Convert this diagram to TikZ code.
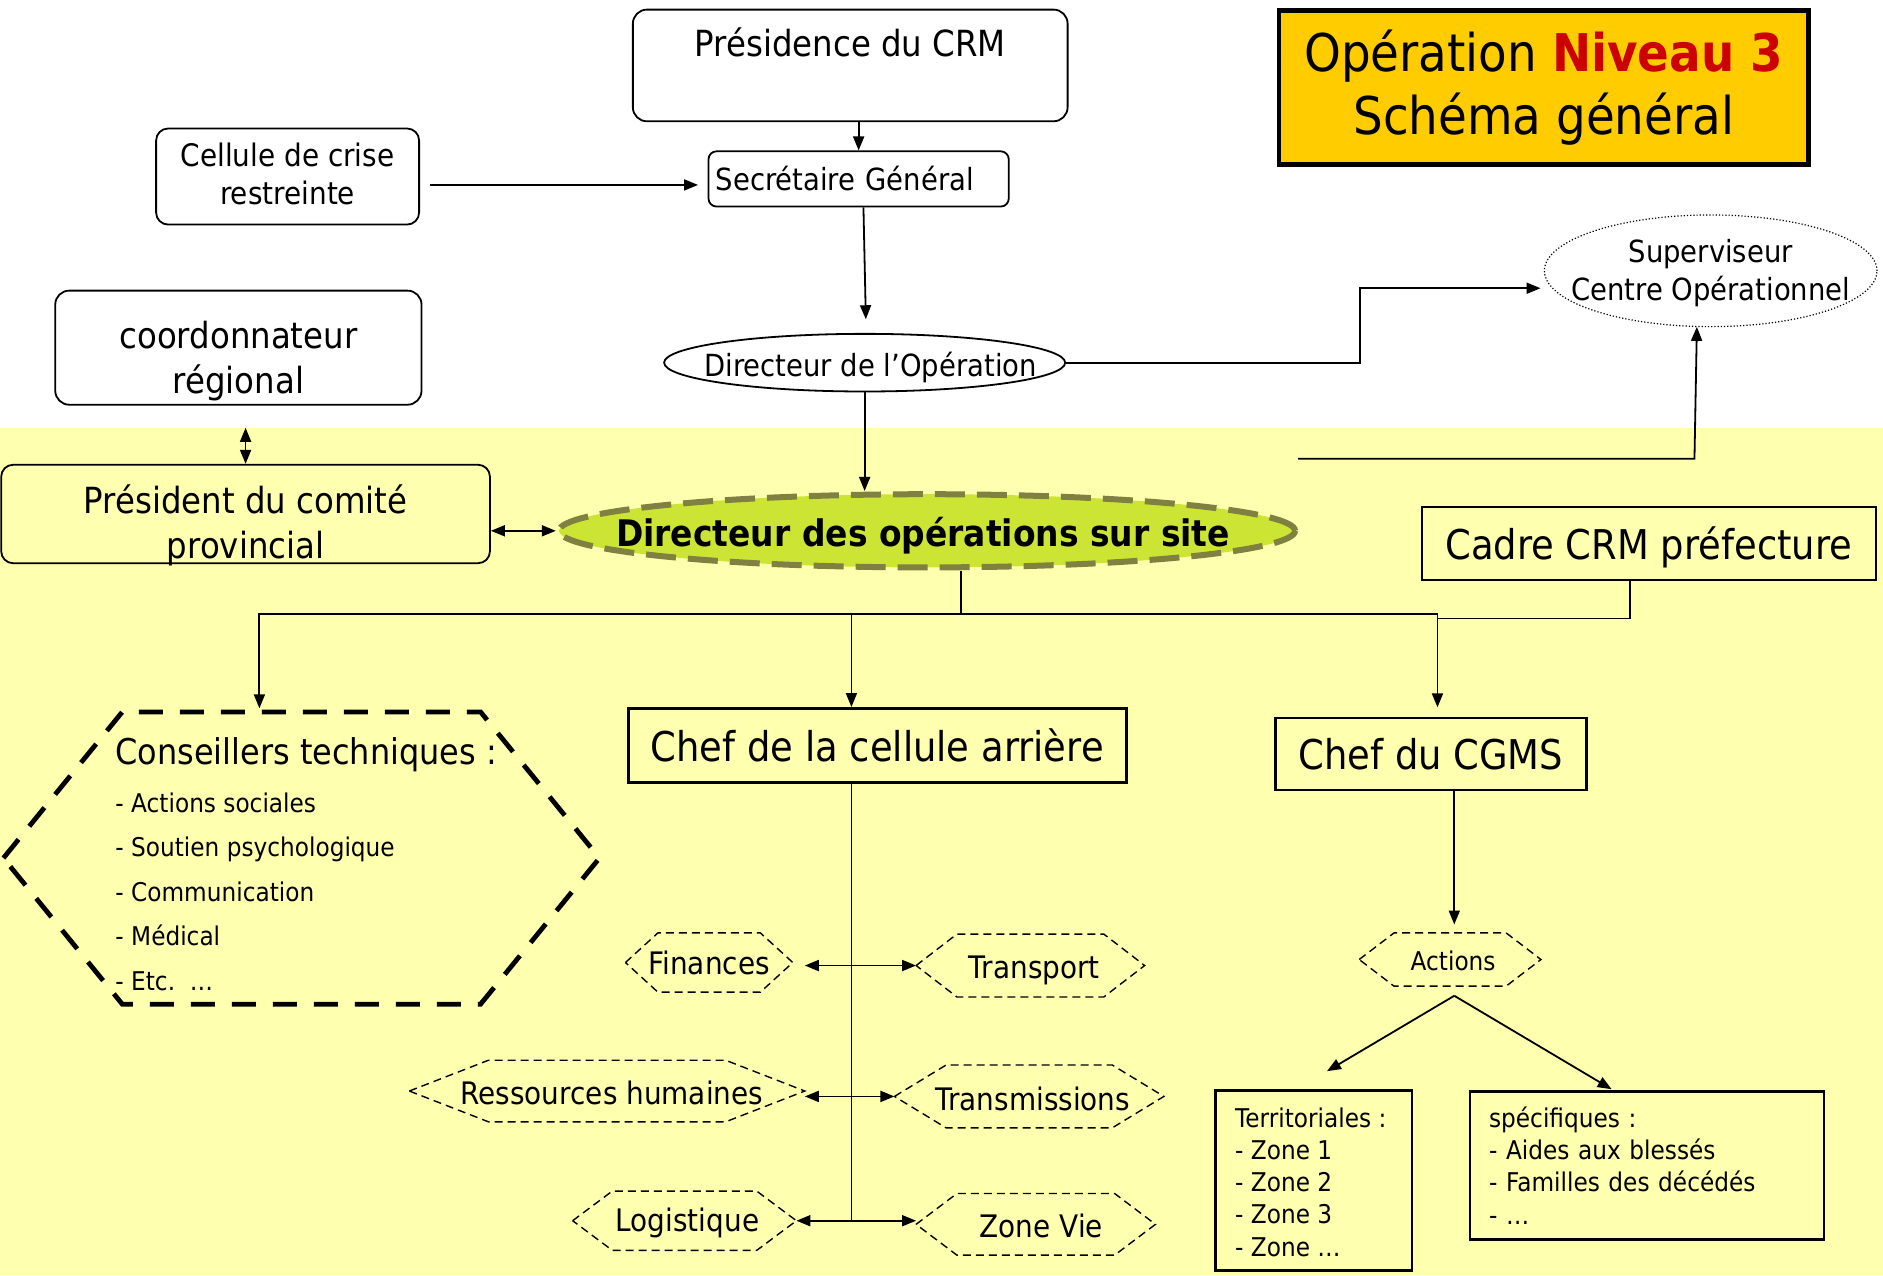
\documentclass[tikz,border=0pt]{standalone}
\usepackage{fontspec}
\setmainfont{DejaVu Sans}[FakeStretch=0.9]
\usetikzlibrary{arrows.meta,calc,backgrounds}
\definecolor{bgyellow}{HTML}{FFFFB0}
\definecolor{titlefill}{HTML}{FFCC00}
\definecolor{titlered}{HTML}{CC0000}
\definecolor{sitefill}{HTML}{CCE535}
\definecolor{siteborder}{HTML}{808040}
\newcommand{\uu}{1.2009pt}
\newcommand{\fsz}[2]{\fontsize{#1pt}{#2pt}\selectfont}
% move text (dx, dy) inside its node without changing the node's size
\newcommand{\mv}[3]{\raisebox{#2}[\height][\depth]{\rlap{\hspace*{#1}#3}\phantom{#3}}}
\newcommand{\mlc}[1]{\begin{tabular}{@{}c@{}}#1\end{tabular}}
\newcommand{\mll}[1]{\begin{tabular}{@{}l@{}}#1\end{tabular}}
\newcommand{\hexa}[3]{\draw[#3] (#1.west) -- ($(#1.north west)+(#2,0)$) -- ($(#1.north east)+(-#2,0)$) -- (#1.east) -- ($(#1.south east)+(-#2,0)$) -- ($(#1.south west)+(#2,0)$) -- cycle;}
\begin{document}
\begin{tikzpicture}[x=1.2009pt,y=-1.2009pt,
  every node/.style={inner sep=0pt, align=center},
  rbox/.style={draw, line width=1.8pt, rounded corners=12pt},
  conn/.style={line width=1.8pt},
  arr/.style={line width=1.8pt, -{Triangle[length=14pt,width=11pt]}},
  darr/.style={line width=1.8pt, {Triangle[length=14pt,width=11pt]}-{Triangle[length=14pt,width=11pt]}},
  hexline/.style={line width=1.4pt, dash pattern=on 8pt off 5pt},
  bighex/.style={line width=4.8pt, dash pattern=on 24pt off 17pt},
  hexnode/.style={font=\fsz{31}{36}}
]
\useasboundingbox (0,0) rectangle (1568,1062);
\begin{pgfonlayer}{background}
\fill[bgyellow] (0,356) rectangle (1568,1062);
\end{pgfonlayer}

% top part
\node[rbox, rounded corners=14pt, minimum width=362*\uu, minimum height=93*\uu, font=\fsz{36}{43}, text height=27pt, text depth=45pt] (pres) at (708,54.5) {Présidence du CRM};
\node[rbox, rounded corners=8pt, minimum width=250*\uu, minimum height=46*\uu, text width=238*\uu, align=left, font=\fsz{30.5}{36}] (sec) at (715,149) {Secrétaire Général};
\node[rbox, minimum width=219*\uu, minimum height=80*\uu, font=\fsz{31}{38.4}] (cell) at (239.5,147) {\mv{0pt}{-1.2pt}{\mlc{Cellule de crise\\restreinte}}};
\node[rbox, rounded corners=14pt, minimum width=305*\uu, minimum height=95*\uu, font=\fsz{36}{44.4}] (coord) at (198.5,289.5) {\mv{0pt}{-14.4pt}{\mlc{coordonnateur\\régional}}};
\node[minimum width=334*\uu, minimum height=48*\uu, font=\fsz{30.5}{36}] (dirop) at (720,302) {\mv{6pt}{-4.8pt}{Directeur de l’Opération}};
\draw[line width=1.8pt] (dirop.center) ellipse [x radius=200.55pt, y radius=28.82pt];
\node[minimum width=277*\uu, minimum height=93*\uu, font=\fsz{30.5}{38.4}] (sup) at (1424.5,225.5) {\mv{0pt}{-3.2pt}{\mlc{Superviseur\\Centre Opérationnel}}};
\draw[line width=1.2pt, dotted] (sup.center) ellipse [x radius=166.3pt, y radius=55.84pt];
\node[draw, line width=4.8pt, fill=titlefill, minimum width=441*\uu, minimum height=128*\uu, font=\fsz{52}{63.6}] (title) at (1285.5,73) {Opération {\bfseries\color{titlered}Niveau 3}\\Schéma général};

% middle
\node[rbox, minimum width=407*\uu, minimum height=82*\uu, font=\fsz{36}{44.4}] (prov) at (204.5,428) {\mv{0pt}{-13.2pt}{\mlc{Président du comité\\provincial}}};
\node[minimum width=618*\uu, minimum height=66*\uu, font=\fsz{36.6}{43}\bfseries] (site) at (772,442) {\mv{-4pt}{-4.8pt}{Directeur des opérations sur site}};
\begin{pgfonlayer}{background}
\draw[fill=sitefill, draw=siteborder, line width=6pt, dash pattern=on 30pt off 12pt] (site.center) ellipse [x radius=368pt, y radius=36.6pt];
\end{pgfonlayer}
\node[draw, line width=1.8pt, minimum width=378*\uu, minimum height=61*\uu, font=\fsz{41}{48}] (cadre) at (1373,452.5) {\mv{0pt}{-3.6pt}{Cadre CRM préfecture}};
\node[draw, line width=3pt, minimum width=415*\uu, minimum height=62*\uu, font=\fsz{41}{48}] (cel) at (730.5,621) {Chef de la cellule arrière};
\node[draw, line width=2.4pt, minimum width=259*\uu, minimum height=60*\uu, font=\fsz{41}{48}] (cgms) at (1191.5,628) {Chef du CGMS};

% conseillers
\node[minimum width=496*\uu, minimum height=243*\uu, font=\fsz{25.8}{44.4}] (cons) at (251,714.5) {\mv{4.8pt}{-10.2pt}{\mll{{\fsz{35.5}{44.4}Conseillers techniques :}\\[4pt]- Actions sociales\\- Soutien psychologique\\- Communication\\- Médical\\- Etc.~~…}}};
\hexa{cons}{99}{bighex}

% cellule arrière services
\node[hexnode, minimum width=139*\uu, minimum height=49*\uu] (fin) at (590.5,801.5) {Finances};
\hexa{fin}{27}{hexline}
\node[hexnode, minimum width=190*\uu, minimum height=52*\uu] (trp) at (858,804) {\mv{4pt}{-4.8pt}{Transport}};
\hexa{trp}{34}{hexline}
\node[hexnode, minimum width=329*\uu, minimum height=51*\uu] (rh) at (505.5,908.5) {\mv{4.8pt}{-2.4pt}{Ressources humaines}};
\hexa{rh}{66}{hexline}
\node[hexnode, minimum width=224*\uu, minimum height=52*\uu] (tms) at (857,913) {\mv{3.6pt}{-2.4pt}{Transmissions}};
\hexa{tms}{43}{hexline}
\node[hexnode, minimum width=186*\uu, minimum height=49*\uu] (log) at (570,1016.5) {\mv{3pt}{-2.4pt}{Logistique}};
\hexa{log}{33}{hexline}
\node[hexnode, minimum width=199*\uu, minimum height=51*\uu] (zv) at (862.5,1019.5) {\mv{5.5pt}{-1.2pt}{Zone Vie}};
\hexa{zv}{34}{hexline}

% CGMS side
\node[minimum width=151*\uu, minimum height=44*\uu, font=\fsz{25.8}{32}] (act) at (1207.5,799) {\mv{3pt}{-1.2pt}{Actions}};
\hexa{act}{29}{hexline}
\node[draw, line width=2.4pt, minimum width=164*\uu, minimum height=150*\uu, align=left, font=\fsz{25.8}{32.2}] (terr) at (1094,983) {\mv{-3pt}{-4.8pt}{\mll{Territoriales :\\- Zone 1\\- Zone 2\\- Zone 3\\- Zone …}}};
\node[draw, line width=2.4pt, minimum width=295*\uu, minimum height=123*\uu, text width=263*\uu, align=left, font=\fsz{25.8}{32.2}] (spec) at (1371.5,970.5) {spécifiques :\\- Aides aux blessés\\- Familles des décédés\\- …};

% connectors
\draw[arr] (sec.north |- pres.south) -- (sec.north);
\draw[arr, shorten <=9.6pt, shorten >=9.6pt] ($(cell.east)+(0,7)$) -- ($(cell.east -| sec.west)+(0,7)$);
\draw[arr] ($(sec.south)+(4,0)$) -- ($(dirop.north)+(1,-12)$);
\draw[arr] (dirop.east) -- ++(245,0) |- ($(sup.west)+(-3,14.5)$);
\coordinate (supfeed) at (1081,382);
\draw[arr] (supfeed) -- ++(330,0) -- ($(sup.south)+(-11.5,0)$);
\draw[arr] (dirop.south) -- (dirop.south |- site.north);
\coordinate (provtop) at ($(prov.north)+(0,-30)$);
\draw[darr] (provtop) -- (prov.north);
\draw[darr] (prov.east |- site.west) -- (site.west);
\coordinate (bus) at ($(site.south)+(28,36)$);
\draw[conn] ($(site.south)+(28,0)$) -- (bus);
\draw[arr] (bus) -| ($(cons.north)+(-35,-3)$);
\draw[arr] (bus) -| ($(cel.north)+(-21.5,0)$);
\draw[arr] (bus) -| ($(cgms.north)+(5.5,-8)$);
\draw[conn] ($(cadre.south)+(-16,0)$) |- ($(cgms.north)+(5.5,-82)$);
\coordinate (spine) at ($(cel.south)+(-21.5,0)$);
\draw[conn] (spine) -- (spine |- log.east);
\draw[darr] ($(fin.east |- trp.west)+(10,0)$) -- (trp.west);
\draw[darr] (rh.east |- tms.west) -- (tms.west);
\draw[darr] (log.east) -- (log.east -| zv.west);
\draw[arr] ($(cgms.south)+(19.5,0)$) -- ($(act.north)+(3.5,-7)$);
\coordinate (actfork) at ($(act.south)+(3.5,8)$);
\draw[arr] (actfork) -- ($(terr.north)+(11,-15)$);
\draw[arr] (actfork) -- ($(spec.north)+(-29.5,-1)$);
\end{tikzpicture}
\end{document}
